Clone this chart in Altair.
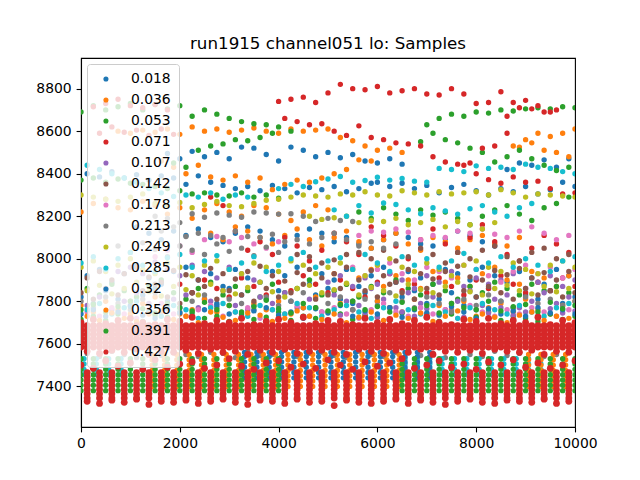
import altair as alt
import pandas as pd

TITLE = "run1915 channel051 lo: Samples"
SERIES = ["0.018", "0.036", "0.053", "0.071", "0.107", "0.142", "0.178",
          "0.213", "0.249", "0.285", "0.32", "0.356", "0.391", "0.427"]
COLORS = ["#1f77b4", "#ff7f0e", "#2ca02c", "#d62728", "#9467bd", "#8c564b",
          "#e377c2", "#7f7f7f", "#bcbd22", "#17becf", "#1f77b4", "#ff7f0e",
          "#2ca02c", "#d62728"]
X_TICKS = [0, 2000, 4000, 6000, 8000, 10000]
Y_TICKS = [7400, 7600, 7800, 8000, 8200, 8400, 8600, 8800]

GRID_A = [0, 250, 500, 750, 1000, 1250, 1500, 1750, 2000, 2250, 2500, 2750,
          3000, 3250, 3500, 3750, 4000, 4250, 4500, 4750, 5000, 5250, 5500,
          5750, 6000, 6250, 6500, 6750, 7000, 7250, 7500, 7750, 8000, 8250,
          8500, 8750, 9000, 9250, 9500, 9750, 10000]
GRID_B = [125, 375, 625, 875, 1125, 1375, 1625, 1875, 2125, 2375, 2625, 2875,
          3125, 3375, 3625, 3875, 4125, 4375, 4625, 4875, 5125, 5375, 5625,
          5875, 6125, 6375, 6625, 6875, 7125, 7375, 7625, 7875, 8125, 8375,
          8625, 8875, 9125, 9375, 9625, 9875]

# ---- 0.018 (blue)
S018_HI = [8495, 8470, 8505, 8480, 8500, 8470, 8525, 8520, 8490, 8460, 8525, 8510,
           8480, 8500, 8475, 8490, 8460, 8450, 8470, 8445]
S018_MID = [8400, 8385, 8410, 8380, 8395, 8370, 8390, 8380, 8350, 8390, 8360, 8345,
            8330, 8340, 8320, 8345, 8330, 8310, 8335, 8325, 8340, 8315, 8330, 8355]
S018_RIGHT = [8360, 8340, 8355, 8330, 8345, 8310, 8335, 8350, 8320, 8300, 8330, 8315,
              8340, 8305, 8325, 8360, 8340]
S018_TOPR = [8420, 8450, 8440, 8465, 8430, 8470]
S018_LOW = [8150, 8120, 8090, 8130, 8110, 8140, 8100, 8080, 8120, 8150, 8130, 8090,
            8060, 8110, 8140, 8120, 8080, 8100, 8070, 8050, 8090, 8120, 8100, 8070,
            8060, 8095, 8130, 8110, 8080, 8060]
S018_BASE = [7820, 7790, 7850, 7810, 7780, 7830, 7860, 7800, 7770, 7840, 7810, 7790,
             7860, 7830, 7780, 7810, 7850, 7800, 7770, 7830, 7860, 7810, 7790, 7840,
             7800, 7770, 7820, 7850, 7790, 7810, 7840, 7780, 7820, 7860, 7800, 7770,
             7830, 7810, 7850, 7790, 7820]
S018_BASE2 = [7920, 7950, 7890, 7930, 7970, 7910, 7880, 7940, 7960, 7900, 7930, 7870,
              7950, 7910, 7890, 7940, 7920, 7960, 7880, 7930, 7900, 7950, 7870, 7920,
              7960, 7890, 7940, 7910, 7880, 7950, 7930, 7900, 7960, 7920, 7890, 7940,
              7910, 7880, 7950, 7920]

# ---- 0.036 (orange)
S036_HI = [8600, 8590, 8605, 8595, 8610, 8585, 8620, 8600, 8610, 8595, 8605, 8615,
           8600, 8590, 8610, 8600, 8605, 8610]
S036_HI2 = [8570, 8555, 8530, 8510, 8520, 8500]
S036_MID = [8460, 8430, 8400, 8440, 8385, 8370, 8390, 8360, 8380, 8325, 8350, 8370,
            8360, 8380, 8400, 8420, 8465, 8460]
S036_RIGHT = [8530, 8560, 8590, 8575, 8590, 8610]
S036_RIGHT2 = [8525, 8545, 8510, 8500, 8480]
S036_LOW = [8220, 8260, 8280, 8240, 8230, 8270, 8250, 8210, 8240, 8190, 8230, 8260,
            8220, 8200, 8250, 8240, 8210, 8180, 8220, 8250, 8230]
S036_LOW2 = [8120, 8090, 8150, 8130, 8100, 8070, 8110, 8140, 8090, 8060, 8100, 8130,
             8080, 8050, 8090, 8120, 8070, 8040, 8100, 8080, 8050, 8090, 8110, 8070,
             8060, 8100]
S036_BASE = [7780, 7750, 7800, 7760, 7740, 7790, 7820, 7770, 7740, 7760, 7810, 7750,
             7780, 7730, 7790, 7760, 7800, 7740, 7770, 7820, 7750, 7790, 7760, 7730,
             7800, 7770, 7750, 7810, 7740, 7780, 7760, 7800, 7730, 7770, 7790, 7750,
             7810, 7760, 7740, 7780, 7800]
S036_BASE2 = [7930, 7880, 7910, 7950, 7870, 7920, 7900, 7860, 7940, 7890, 7910, 7870,
              7930, 7960, 7900, 7880, 7940, 7910, 7870, 7920]

# ---- 0.053 (green)
S053_TOP = [8690, 8720, 8700, 8715, 8730, 8700, 8725, 8705, 8720, 8670, 8700, 8680,
            8660, 8645, 8635, 8630, 8620, 8600]
S053_TOPR = [8630, 8660, 8680, 8670, 8690, 8685, 8700, 8695, 8705, 8710, 8705, 8715, 8710]
S053_MID = [8450, 8430, 8510, 8530, 8540, 8560, 8555, 8570, 8590]
S053_MIDR = [8550, 8590, 8560, 8545, 8520, 8500, 8455, 8480, 8510, 8470, 8440, 8415, 8430]
S053_LOWL = [8370, 8380, 8360, 8375, 8355, 8350, 8340, 8330, 8320, 8305, 8310, 8300,
             8295, 8310, 8290, 8300, 8285]
S053_LOWR = [8220, 8190, 8240, 8210, 8180, 8230, 8205, 8220, 8190, 8160, 8200, 8230,
             8250, 8210, 8180, 8240, 8260, 8290]
S053_EDGE = [7715, 7730, 7710, 7740, 7720, 7705, 7735, 7725, 7710, 7745, 7720, 7730,
             7705, 7740, 7715, 7725, 7750, 7710, 7730, 7720, 7705, 7740, 7715, 7735,
             7725, 7710, 7745, 7720, 7730, 7705, 7740, 7715, 7725, 7750, 7710, 7730,
             7720, 7705, 7740, 7715, 7730]
S053_BASE = [7860, 7830, 7880, 7850, 7820, 7870, 7900, 7840, 7810, 7860, 7890, 7830,
             7870, 7850, 7820, 7880, 7840, 7860, 7900, 7830, 7850, 7880, 7820, 7870,
             7840, 7900, 7860, 7830, 7880, 7850, 7810, 7870, 7840, 7890, 7860, 7830,
             7880, 7850, 7870, 7840]

# ---- 0.071 (red)
S071_LEFT = [8715, 8730, 8750, 8720, 8710, 8725, 8700]
S071_LEFT2 = [8590, 8620, 8595, 8605, 8580, 8610, 8585]
S071_TOP = [8740, 8750, 8760, 8735, 8780, 8820, 8800, 8795, 8810, 8780, 8790, 8800,
            8775, 8770, 8800, 8775, 8730, 8735, 8785, 8735, 8745, 8720, 8690]
S071_TOP2 = [8670, 8710, 8705, 8690, 8700]
S071_MID = [8660, 8645, 8630, 8635, 8600, 8580, 8625, 8570, 8560, 8545, 8540, 8530,
            8480, 8455, 8445, 8450, 8520, 8530, 8590]
S071_RIGHT = [8440, 8400, 8372, 8355, 8385, 8360, 8365, 8330, 8305, 8310]
S071_LOW = [8290, 8250, 8130, 8040, 8080, 8020, 8100, 8060, 7990, 8040, 8120, 8080,
            8020, 8150, 8110, 8060, 8000, 8090, 8140, 8070, 8030, 8100, 8160, 8080,
            8020, 7990, 8050, 8110, 8070, 8030]
S071_BASE = [7880, 7840, 7900, 7860, 7820, 7910, 7870, 7830, 7890, 7850, 7920, 7880,
             7840, 7900, 7860, 7820, 7890, 7930, 7850, 7880, 7840, 7910, 7870, 7830,
             7900, 7860, 7920, 7880, 7840, 7890, 7850, 7910, 7870]

# ---- 0.107 (purple)
S107_A = [7940, 7960, 7930, 7985, 7950, 7920, 7970, 7940, 7910, 7960, 7930, 7900]
S107_B = [7780, 7820, 7760, 7800, 7840, 7790, 7750, 7810, 7830, 7770, 7800, 7850,
          7780, 7760, 7820, 7790, 7840, 7770, 7810, 7750, 7830, 7800, 7780, 7860,
          7810, 7770, 7840, 7790, 7820, 7760, 7800, 7850, 7780, 7810, 7830, 7770,
          7800, 7840, 7790, 7820]
S107_C = [7890, 7920, 7870, 7910, 7880, 7930, 7900, 7860, 7920, 7890, 7940, 7870,
          7910, 7880, 7900, 7930, 7860, 7890, 7920, 7870, 7900]
S107_D = [7735, 7760, 7745, 7725, 7770, 7750, 7730, 7765, 7740, 7755, 7725, 7760,
          7745, 7770, 7735, 7750, 7730, 7765, 7745, 7755]

# ---- 0.142 (brown)
S142_A = [8020, 8010, 7980, 7995, 8020, 8030, 8000, 8040, 7990, 8010, 8050, 8020,
          7980, 8030, 8000, 8040, 8060, 8010, 7990, 8030, 8050, 8000, 8020]
S142_B = [7840, 7810, 7860, 7830, 7800, 7850, 7880, 7820, 7790, 7840, 7870, 7810,
          7850, 7830, 7800, 7860, 7820, 7840, 7880, 7810, 7830, 7860, 7800, 7850,
          7820, 7880, 7840, 7810, 7860, 7830, 7790, 7850, 7820, 7870, 7840, 7810,
          7860, 7830, 7850, 7820, 7840]
S142_C = [7910, 7940, 7900, 7930, 7960, 7915, 7890, 7945, 7925, 7900, 7955, 7930,
          7905, 7940, 7965, 7920, 7895, 7935, 7950, 7910, 7930, 7960, 7900, 7945,
          7920, 7890, 7950, 7930, 7905, 7940, 7965, 7915, 7900, 7945, 7925, 7955,
          7910, 7935, 7900, 7940]

# ---- 0.178 (pink)
S178_A = [8010, 8040, 8060, 8030, 8090, 8105, 8080, 8100, 8070, 8050, 8080]
S178_B = [8110, 8130, 8125, 8140, 8125, 8090, 8110, 8100, 8130, 8120, 8140, 8115,
          8100, 8130, 8150, 8120, 8090, 8110]
S178_C = [7960, 7920, 7950, 7980, 7930, 7900, 7960, 7940, 7910, 7970, 7950, 7920,
          7890, 7940, 7970, 7930, 7960, 7910, 7950]
S178_D = [7750, 7730, 7770, 7740, 7720, 7760, 7790, 7740, 7730, 7760, 7780, 7730,
          7750, 7770, 7720, 7760, 7740, 7780, 7730, 7750, 7770, 7740, 7720, 7760,
          7790, 7750, 7730, 7770, 7740, 7760, 7720, 7780, 7750, 7730, 7760, 7740,
          7770, 7750, 7730, 7760]

# ---- 0.213 (gray)
S213_A = [8200, 8190, 8170, 8212, 8195, 8215, 8205, 8195, 8220, 8215, 8210, 8212,
          8200, 8175, 8190, 8180, 8175]
S213_B = [8130, 8150, 8105, 8120, 8110, 8100, 8130, 8105, 8100, 8115, 8080, 8090,
          8070, 8100, 8120, 8090, 8060, 8080, 8050, 8070]
S213_C = [7800, 7770, 7820, 7790, 7760, 7810, 7840, 7780, 7750, 7800, 7830, 7770,
          7810, 7790, 7760, 7820, 7780, 7800, 7840, 7770, 7790, 7820, 7760, 7810,
          7780, 7840, 7800, 7770, 7820, 7790, 7750, 7810, 7780, 7830, 7800, 7770,
          7820, 7790, 7810, 7780, 7800]
S213_D = [7555, 7540, 7565, 7550, 7535, 7560, 7545, 7570, 7550, 7540, 7560, 7555,
          7535, 7565, 7545, 7550, 7570, 7540, 7555, 7560, 7545, 7535, 7565, 7550,
          7540, 7560, 7570, 7545, 7555, 7535, 7560, 7550, 7540, 7565, 7545, 7555,
          7570, 7540, 7550, 7560]
S213_E = [8060, 8030, 8075, 8045, 8010, 8060, 8040, 8020, 8070, 8035, 8050, 8015,
          8055, 8030]

# ---- 0.249 (olive)
S249_A = [8300, 8290, 8280, 8270, 8290, 8305, 8260, 8250, 8265, 8240, 8255, 8270,
          8250, 8245, 8260, 8275, 8280, 8290, 8300, 8295, 8290, 8305, 8300, 8315,
          8300, 8295, 8320, 8310, 8300, 8315, 8305, 8310, 8315, 8300, 8325, 8310,
          8290, 8305, 8300, 8295, 8290]
S249_B = [8200, 8185, 8193, 8200, 8170, 8180, 8175, 8190, 8160, 8170, 8185, 8150,
          8175, 8160, 8140, 8170]
S249_C = [7960, 7990, 7940, 7970, 8000, 7950, 7930, 7980, 7960, 7920, 7970, 7990,
          7950, 7930, 7980, 7960, 7940, 7990, 7970, 7930, 7960, 7980, 7950, 7920,
          7970, 8000, 7960, 7940, 7980, 7950, 7920, 7970, 7990, 7960, 7940, 7980,
          7950, 7930, 7970, 7990, 7960]
S249_D = [7850, 7875, 7835, 7860, 7890, 7845, 7825, 7870, 7855, 7830, 7880, 7850,
          7835, 7865, 7890, 7845, 7820, 7860, 7875, 7840, 7855, 7885, 7830, 7865,
          7850, 7825, 7880, 7855, 7840, 7870, 7890, 7845, 7830, 7860, 7875, 7850,
          7835, 7870, 7845, 7860]

# ---- 0.285 (cyan)
S285_A = [8440, 8420, 8400, 8380, 8360, 8330, 8310, 8293, 8300, 8290, 8310, 8280,
          8300, 8290]
S285_B = [8330, 8350, 8340, 8362, 8375, 8387, 8360, 8368, 8383, 8370, 8378, 8365,
          8360, 8425, 8420, 8410, 8437, 8425, 8430, 8420, 8445, 8430, 8425, 8410, 8400]
S285_C = [8230, 8200, 8250, 8215, 8262, 8255, 8230, 8212, 8240, 8225, 8210, 8235,
          8250, 8220, 8200, 8240, 8260]
S285_D = [7980, 8010, 7950, 8000, 8030, 7970, 7940, 8005, 8020, 7960, 7990, 8015,
          7950, 7980, 8010, 7940, 7970, 8000, 8030, 7960, 7990, 8005, 7950, 8020,
          7980, 7940, 8010, 7970, 8000, 7960, 7990, 8025, 7950, 7980, 8010, 7960,
          8000, 7970, 7940, 7990, 8010]
S285_E = [7760, 7790, 7740, 7770, 7800, 7750, 7730, 7780, 7760, 7720, 7770, 7790,
          7750, 7730, 7780, 7760, 7740, 7790, 7770, 7730, 7760, 7780, 7750, 7720,
          7770, 7800, 7760, 7740, 7780, 7750, 7720, 7770, 7790, 7760, 7740, 7780,
          7750, 7730, 7770, 7790]

# ---- 0.32 (blue)
S320_A = [7740, 7760, 7730, 7750, 7775, 7735, 7720, 7765, 7745, 7730, 7760, 7780,
          7740, 7725, 7755, 7770, 7735, 7750, 7720, 7765, 7745, 7780, 7730, 7755,
          7740, 7770, 7725, 7760, 7745, 7735, 7775, 7750, 7720, 7765, 7740, 7755,
          7730, 7770, 7745, 7760, 7740]

# ---- 0.356 (orange)
S356_A = [7730, 7710, 7745, 7720, 7705, 7740, 7755, 7715, 7730, 7700, 7750, 7725,
          7710, 7745, 7735, 7705, 7720, 7755, 7730, 7715, 7740, 7700, 7725, 7750,
          7710, 7735, 7720, 7745, 7705, 7730, 7755, 7715, 7740, 7725, 7700, 7735,
          7750, 7710, 7730, 7720]

# ---- 0.391 (green)
S391_A = [7760, 7785, 7750, 7775, 7800, 7765, 7745, 7790, 7770, 7755, 7795, 7760,
          7780, 7750, 7775, 7805, 7765, 7745, 7790, 7770, 7755, 7785, 7800, 7760,
          7775, 7750, 7795, 7765, 7780, 7745, 7790, 7770, 7760, 7800, 7755, 7775,
          7785, 7750, 7795, 7765, 7780]

# ---- 0.427 (red)
S427_TOP = [7700, 7715, 7695, 7710, 7720, 7700, 7690, 7715, 7705, 7725, 7695, 7710,
            7700, 7720, 7690, 7705, 7715, 7700, 7725, 7695, 7710, 7705, 7690, 7720,
            7700, 7715, 7695, 7710, 7725, 7700, 7690, 7715, 7705, 7720, 7695, 7710,
            7700, 7725, 7690, 7710, 7700]
S427_BOT = [7565, 7555, 7570, 7560, 7575, 7550, 7565, 7560, 7570, 7555, 7575, 7560,
            7565, 7550, 7570, 7560, 7575, 7555, 7565, 7570, 7560, 7550, 7575, 7565,
            7555, 7570, 7560, 7575, 7550, 7565, 7560, 7570, 7555, 7575, 7565, 7560,
            7570, 7550, 7565, 7560]
S427_MID = [7500, 7485, 7520, 7495, 7510, 7480, 7525, 7490, 7505, 7515, 7485, 7500,
            7530, 7495, 7480, 7510, 7520, 7490, 7505, 7485, 7525, 7500, 7480, 7515,
            7495, 7510, 7530, 7485, 7500, 7520, 7490, 7505, 7480, 7515, 7500, 7525,
            7490, 7510, 7485, 7500, 7520]
S427_DEEP = [7330, 7320, 7335, 7325, 7340, 7315, 7330, 7325, 7335, 7320, 7330, 7340,
             7325, 7315, 7335, 7330, 7320, 7340, 7325, 7330, 7310, 7335, 7325, 7320,
             7330, 7340, 7320, 7335, 7325, 7315, 7330, 7340, 7325, 7320, 7335, 7330,
             7325, 7340, 7320, 7330]

# ---- dense sample columns near the baseline
CYAN_COL_X = [60, 310, 560, 810, 6560, 6810, 7060, 7310, 7560, 7810, 8060, 8310,
              8560, 8810, 9060, 9310]
CYAN_COL_Y = [7455, 7480, 7505, 7530]
BLUE_COL_X = [3310, 3560, 3810, 4060, 4310, 4560, 4810, 5060, 5310, 5560, 5810,
              6060, 6310, 6560, 6810, 7060]
BLUE_COL_Y = [7440, 7465, 7490, 7515, 7540, 7560]
ORANGE_COL_X = [1440, 1690, 1940, 2190, 2440, 2690, 2940, 3190, 3440, 3690, 3940,
                4190, 4440, 4690, 4940, 5190, 5440, 5690, 5940, 6190, 6440, 9060,
                9310, 9560, 9810]
ORANGE_COL_Y = [7400, 7425, 7450, 7475, 7500, 7525, 7550]
GREEN_COL_X = GRID_A[0:17] + GRID_A[26:41]
GREEN_COL_Y = [7380, 7405, 7430, 7455, 7480, 7505, 7530]
RED_COL_X = GRID_B
RED_COL_Y = [7345, 7365, 7385, 7405, 7425, 7445, 7465]
BAND_X = GRID_A + GRID_B
BAND_Y = [7585, 7605, 7625, 7645, 7665, 7685]

TRACES = [
    ("0.018", GRID_A, 7, S018_HI), ("0.018", GRID_B, 0, S018_MID),
    ("0.018", GRID_A, 24, S018_RIGHT), ("0.018", GRID_B, 34, S018_TOPR),
    ("0.018", GRID_B, 4, S018_LOW), ("0.018", GRID_A, 0, S018_BASE),
    ("0.018", GRID_B, 0, S018_BASE2),
    ("0.036", GRID_A, 3, S036_HI), ("0.036", GRID_A, 21, S036_HI2),
    ("0.036", GRID_B, 6, S036_MID), ("0.036", GRID_A, 35, S036_RIGHT),
    ("0.036", GRID_B, 35, S036_RIGHT2), ("0.036", GRID_A, 0, S036_LOW),
    ("0.036", GRID_B, 10, S036_LOW2), ("0.036", GRID_A, 0, S036_BASE),
    ("0.036", GRID_B, 20, S036_BASE2),
    ("0.053", GRID_A, 0, S053_TOP), ("0.053", GRID_A, 28, S053_TOPR),
    ("0.053", GRID_B, 7, S053_MID), ("0.053", GRID_B, 27, S053_MIDR),
    ("0.053", GRID_A, 0, S053_LOWL), ("0.053", GRID_B, 22, S053_LOWR),
    ("0.053", GRID_A, 0, S053_EDGE), ("0.053", GRID_B, 0, S053_BASE),
    ("0.071", GRID_A, 1, S071_LEFT), ("0.071", GRID_B, 1, S071_LEFT2),
    ("0.071", GRID_A, 16, S071_TOP), ("0.071", GRID_B, 34, S071_TOP2),
    ("0.071", GRID_B, 16, S071_MID), ("0.071", GRID_A, 31, S071_RIGHT),
    ("0.071", GRID_B, 10, S071_LOW), ("0.071", GRID_A, 8, S071_BASE),
    ("0.107", GRID_A, 3, S107_A), ("0.107", GRID_B, 0, S107_B),
    ("0.107", GRID_A, 20, S107_C), ("0.107", GRID_A, 21, S107_D),
    ("0.142", GRID_B, 17, S142_A), ("0.142", GRID_A, 0, S142_B),
    ("0.142", GRID_B, 0, S142_C),
    ("0.178", GRID_A, 6, S178_A), ("0.178", GRID_B, 22, S178_B),
    ("0.178", GRID_A, 22, S178_C), ("0.178", GRID_B, 0, S178_D),
    ("0.213", GRID_A, 6, S213_A), ("0.213", GRID_B, 6, S213_B),
    ("0.213", GRID_A, 0, S213_C), ("0.213", GRID_B, 0, S213_D),
    ("0.213", GRID_A, 3, S213_E),
    ("0.249", GRID_A, 0, S249_A), ("0.249", GRID_B, 18, S249_B),
    ("0.249", GRID_A, 0, S249_C), ("0.249", GRID_B, 0, S249_D),
    ("0.285", GRID_B, 0, S285_A), ("0.285", GRID_A, 16, S285_B),
    ("0.285", GRID_B, 20, S285_C), ("0.285", GRID_A, 0, S285_D),
    ("0.285", GRID_B, 0, S285_E),
    ("0.32", GRID_A, 0, S320_A),
    ("0.356", GRID_B, 0, S356_A),
    ("0.391", GRID_A, 0, S391_A),
    ("0.427", GRID_A, 0, S427_TOP), ("0.427", GRID_B, 0, S427_BOT),
    ("0.427", GRID_A, 0, S427_MID), ("0.427", GRID_B, 0, S427_DEEP),
]
COLUMNS = [
    ("0.285", CYAN_COL_X, CYAN_COL_Y),
    ("0.32", BLUE_COL_X, BLUE_COL_Y),
    ("0.356", ORANGE_COL_X, ORANGE_COL_Y),
    ("0.391", GREEN_COL_X, GREEN_COL_Y),
    ("0.427", RED_COL_X, RED_COL_Y),
    ("0.427", BAND_X, BAND_Y),
]

rows = []
for label, grid, start, ys in TRACES:
    for x, y in zip(grid[start:], ys):
        rows.append({"x": x, "y": y, "series": label, "z": SERIES.index(label)})
for label, xs, ys in COLUMNS:
    for x in xs:
        for y in ys:
            rows.append({"x": x, "y": y, "series": label, "z": SERIES.index(label)})
df = pd.DataFrame(rows)

color = alt.Color(
    "series:N",
    scale=alt.Scale(domain=SERIES, range=COLORS),
    legend=alt.Legend(
        title=None, orient="none", legendX=6, legendY=6, padding=8,
        fillColor="rgba(255,255,255,0.8)", strokeColor="#cccccc", cornerRadius=3,
        symbolType="circle", symbolSize=26, symbolOffset=4, symbolStrokeWidth=0,
        symbolOpacity=1, labelOffset=18, rowPadding=6, labelFont="DejaVu Sans",
        labelFontSize=13.9, labelColor="black", labelLimit=200,
    ),
)
xenc = alt.X("x:Q", scale=alt.Scale(domain=[0, 10000], nice=False, zero=False),
             axis=alt.Axis(values=X_TICKS, format="d", title=None))
yenc = alt.Y("y:Q", scale=alt.Scale(domain=[7209, 8944], nice=False, zero=False),
             axis=alt.Axis(values=Y_TICKS, format="d", title=None))

base = alt.Chart(df)
others = base.transform_filter("datum.series != '0.427'").mark_circle(
    size=29, opacity=1, clip=True
).encode(x=xenc, y=yenc, color=color, order=alt.Order("z:Q"))
last = base.transform_filter("datum.series == '0.427'").mark_circle(
    size=46, opacity=1, clip=True
).encode(x=xenc, y=yenc, color=color)

chart = alt.layer(others, last).properties(
    width=494, height=369,
    autosize=alt.AutoSizeParams(type="none"),
    padding={"left": 73, "top": 50, "right": 57, "bottom": 45},
    title=alt.TitleParams(TITLE, font="DejaVu Sans", fontSize=16.7, fontWeight="normal",
                          anchor="middle", offset=8, baseline="alphabetic", color="black",
                          dy=16),
).configure_view(stroke="black", strokeWidth=1.1).configure_axis(
    labelFont="DejaVu Sans", labelFontSize=13.9, labelColor="black",
    tickColor="black", tickSize=4.9, tickWidth=1.1, domainColor="black",
    domainWidth=1.1, labelPadding=4.9, grid=False, labelFlush=False,
    labelOverlap=False,
)

chart.save("out.html", embed_options={"renderer": "svg", "actions": False})
